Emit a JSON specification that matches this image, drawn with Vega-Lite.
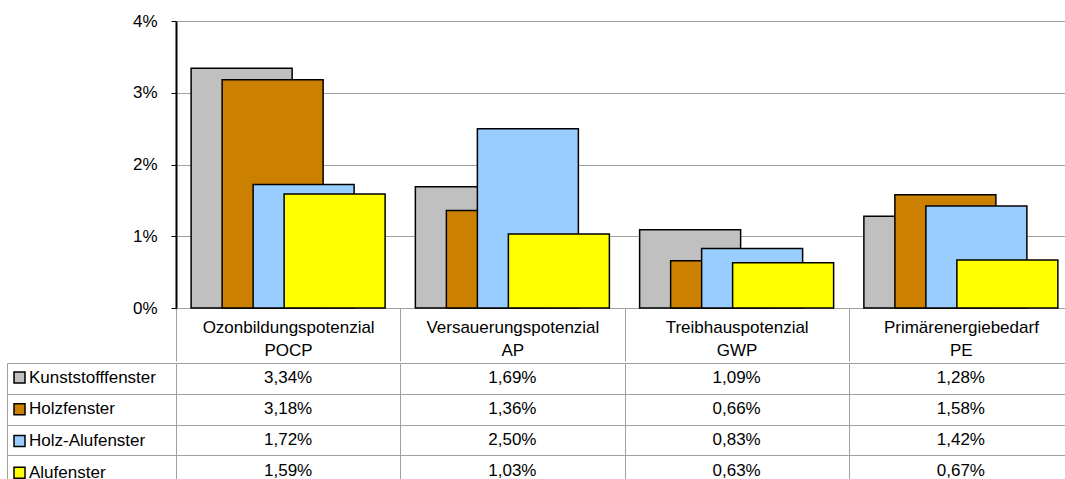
{
  "$schema": "https://vega.github.io/schema/vega-lite/v6.json",
  "padding": {"left": 6, "top": 12, "right": 0, "bottom": 0},
  "config": {
    "font": "Liberation Sans",
    "view": {"stroke": null},
    "concat": {"spacing": 0}
  },
  "datasets": {
    "d": [
      {"category": "Ozonbildungspotenzial POCP", "series": "Kunststofffenster", "value": 3.34},
      {"category": "Versauerungspotenzial AP", "series": "Kunststofffenster", "value": 1.69},
      {"category": "Treibhauspotenzial GWP", "series": "Kunststofffenster", "value": 1.09},
      {"category": "Primärenergiebedarf PE", "series": "Kunststofffenster", "value": 1.28},
      {"category": "Ozonbildungspotenzial POCP", "series": "Holzfenster", "value": 3.18},
      {"category": "Versauerungspotenzial AP", "series": "Holzfenster", "value": 1.36},
      {"category": "Treibhauspotenzial GWP", "series": "Holzfenster", "value": 0.66},
      {"category": "Primärenergiebedarf PE", "series": "Holzfenster", "value": 1.58},
      {"category": "Ozonbildungspotenzial POCP", "series": "Holz-Alufenster", "value": 1.72},
      {"category": "Versauerungspotenzial AP", "series": "Holz-Alufenster", "value": 2.50},
      {"category": "Treibhauspotenzial GWP", "series": "Holz-Alufenster", "value": 0.83},
      {"category": "Primärenergiebedarf PE", "series": "Holz-Alufenster", "value": 1.42},
      {"category": "Ozonbildungspotenzial POCP", "series": "Alufenster", "value": 1.59},
      {"category": "Versauerungspotenzial AP", "series": "Alufenster", "value": 1.03},
      {"category": "Treibhauspotenzial GWP", "series": "Alufenster", "value": 0.63},
      {"category": "Primärenergiebedarf PE", "series": "Alufenster", "value": 0.67}
    ]
  },
  "resolve": {"scale": {"color": "shared"}, "legend": {"color": "shared"}},
  "vconcat": [
    {
      "width": 897,
      "height": 287,
      "data": {"name": "d"},
      "mark": {"type": "bar", "width": 101, "stroke": "black", "strokeWidth": 1.5},
      "encoding": {
        "x": {
          "field": "category", "type": "nominal", "sort": null,
          "scale": {"paddingInner": 0, "paddingOuter": 0},
          "axis": {
            "title": null, "orient": "bottom",
            "labelExpr": "split(datum.label, ' ')",
            "labelAngle": 0, "labelFontSize": 17, "labelColor": "black",
            "labelBaseline": "alphabetic", "labelLineHeight": 23, "labelPadding": -29,
            "tickBand": "extent", "tickSize": 53, "tickColor": "#A0A0A0",
            "domainColor": "#A0A0A0", "labelOverlap": false, "grid": false
          }
        },
        "y": {
          "field": "value", "type": "quantitative",
          "scale": {"domain": [0, 4], "nice": false},
          "axis": {
            "title": null, "values": [0, 1, 2, 3, 4],
            "labelExpr": "datum.value + '%'",
            "labelFontSize": 17, "labelColor": "black",
            "tickSize": 5, "tickColor": "black",
            "domainColor": "black", "domainWidth": 2,
            "labelPadding": 14, "grid": true, "gridColor": "#A0A0A0"
          }
        },
        "xOffset": {
          "field": "series", "type": "nominal",
          "sort": ["Kunststofffenster", "Holzfenster", "Holz-Alufenster", "Alufenster"],
          "scale": {"paddingInner": 0, "paddingOuter": 0, "range": [50.125, 174.125]}
        },
        "color": {
          "field": "series", "type": "nominal",
          "scale": {
            "domain": ["Kunststofffenster", "Holzfenster", "Holz-Alufenster", "Alufenster"],
            "range": ["#C0C0C0", "#CC8000", "#99CCFF", "#FFFF00"]
          },
          "legend": {
            "title": null, "orient": "none", "legendX": -165, "legendY": 348,
            "symbolType": "square", "symbolSize": 121,
            "symbolStrokeColor": "black", "symbolStrokeWidth": 1.5, "symbolOpacity": 1,
            "labelFontSize": 17, "labelColor": "black", "labelOffset": 1,
            "rowPadding": 13.75, "labelLimit": 300
          }
        }
      }
    },
    {
      "width": 897,
      "height": 123,
      "data": {"name": "d"},
      "transform": [
        {"calculate": "replace(format(datum.value, '.2f'), '.', ',') + '%'", "as": "label"}
      ],
      "mark": {"type": "text", "fontSize": 17, "color": "black"},
      "encoding": {
        "x": {
          "field": "category", "type": "nominal", "sort": null,
          "scale": {"paddingInner": 0, "paddingOuter": 0},
          "axis": {
            "title": null, "labels": false, "ticks": false, "domain": false,
            "grid": true, "tickBand": "extent", "gridColor": "#A0A0A0"
          }
        },
        "y": {
          "field": "series", "type": "nominal",
          "sort": ["Kunststofffenster", "Holzfenster", "Holz-Alufenster", "Alufenster"],
          "scale": {"paddingInner": 0, "paddingOuter": 0},
          "axis": {
            "title": null, "labels": false, "offset": 169,
            "domainColor": "#A0A0A0", "tickColor": "#A0A0A0", "tickSize": -169,
            "tickBand": "extent", "grid": true, "gridColor": "#A0A0A0"
          }
        },
        "text": {"field": "label"}
      }
    }
  ]
}
